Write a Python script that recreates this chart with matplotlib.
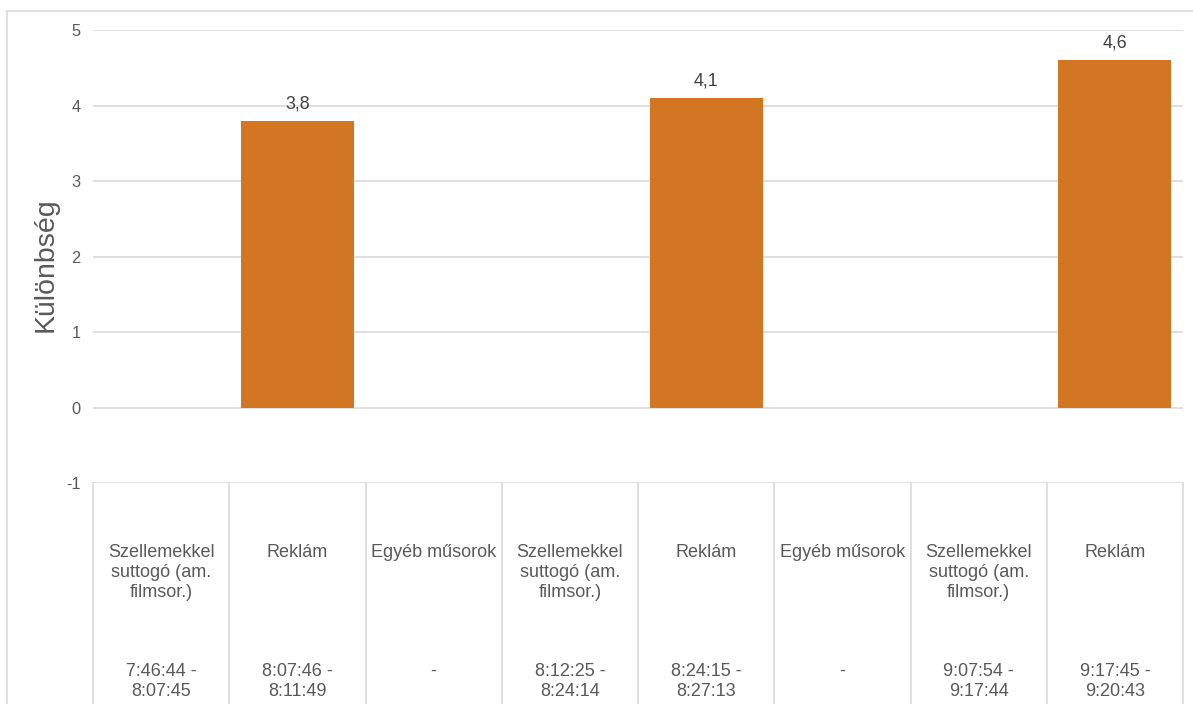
import matplotlib.pyplot as plt
import matplotlib.transforms as mtransforms
from matplotlib.patches import Rectangle
import numpy as np

plt.rcParams['font.family'] = ['Liberation Sans', 'DejaVu Sans']

# category axis: program type + time interval
programs = ['Szellemekkel\nsuttogó (am.\nfilmsor.)', 'Reklám', 'Egyéb műsorok',
            'Szellemekkel\nsuttogó (am.\nfilmsor.)', 'Reklám', 'Egyéb műsorok',
            'Szellemekkel\nsuttogó (am.\nfilmsor.)', 'Reklám']
intervals = ['7:46:44 -\n8:07:45', '8:07:46 -\n8:11:49', '-',
             '8:12:25 -\n8:24:14', '8:24:15 -\n8:27:13', '-',
             '9:07:54 -\n9:17:44', '9:17:45 -\n9:20:43']
# difference values (only the ad blocks have a value)
kulonbseg = [np.nan, 3.8, np.nan, np.nan, 4.1, np.nan, np.nan, 4.6]
yticks = [-1, 0, 1, 2, 3, 4, 5]

W, H = 1193, 704
fig = plt.figure(figsize=(W / 100, H / 100), dpi=100)
ax = fig.add_axes([93 / W, (H - 483) / H, (1183 - 93) / W, (483 - 30) / H])

grid_c = '#d9d9d9'
text_c = '#595959'
bar_c = '#D27623'

x = np.arange(len(programs))
vals = np.array(kulonbseg, dtype=float)
bars = ax.bar(x, np.nan_to_num(vals), width=0.83, color=bar_c, zorder=3)
for xi, v in zip(x, vals):
    if not np.isnan(v):
        ax.text(xi, v + 0.11, f'{v:.1f}'.replace('.', ','), ha='center', va='bottom',
                fontsize=12.8, color='#404040')

ax.set_xlim(-0.5, len(programs) - 0.5)
ax.set_ylim(-1, 5)
ax.set_yticks(yticks)
ax.set_yticklabels([str(t) for t in yticks])
ax.tick_params(axis='y', length=0, labelsize=11.8, labelcolor=text_c, pad=9)
ax.set_xticks([])
for s in ax.spines.values():
    s.set_visible(False)
for t in yticks:
    ax.axhline(t, color=grid_c, lw=1.2, zorder=1)

# category table below the axis
trans = mtransforms.blended_transform_factory(ax.transData, fig.transFigure)
top = (H - 483) / H
for b in np.arange(-0.5, len(programs), 1.0):
    ax.plot([b, b], [0, top], transform=trans, color=grid_c, lw=1.2, clip_on=False)
for xi, p, iv in zip(x, programs, intervals):
    ax.text(xi, (H - 544) / H, p, transform=trans, ha='center', va='top',
            fontsize=13, color=text_c, linespacing=1.22)
    ax.text(xi, (H - 663) / H, iv, transform=trans, ha='center', va='top',
            fontsize=13, color=text_c, linespacing=1.22)

fig.text(46 / W, (H - 265) / H, 'Különbség', rotation=90, ha='center', va='center',
         fontsize=20.5, color=text_c)

# outer chart border (cropped at right and bottom)
fig.patches.append(Rectangle((7 / W, -0.05), 1.1, (H - 11) / H + 0.05, transform=fig.transFigure,
                             fill=False, edgecolor=grid_c, lw=1.2))

fig.savefig('out.png', dpi=100)
